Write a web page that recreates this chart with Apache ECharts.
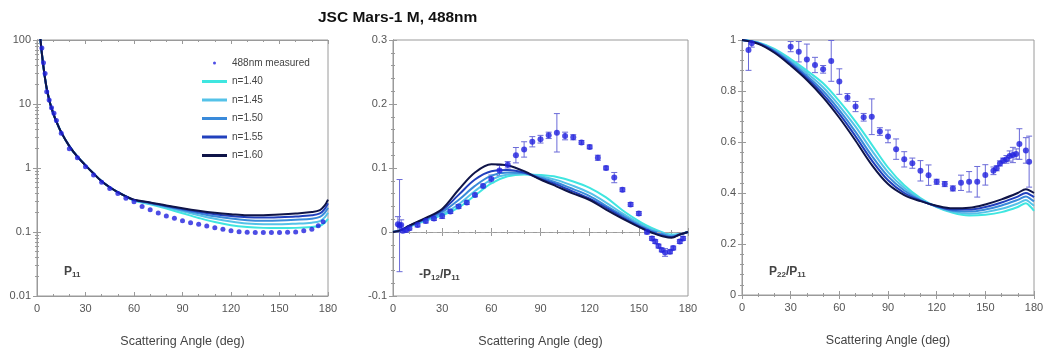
<!DOCTYPE html>
<html>
<head>
<meta charset="utf-8">
<script src="https://cdn.jsdelivr.net/npm/echarts@6/dist/echarts.min.js"></script>
<style>
html,body{margin:0;padding:0;background:#fff}
#c{width:1047px;height:355px}
</style>
</head>
<body>
<div id="c"></div>
<script>
// ---- data ----
const modelNames = ['n=1.40', 'n=1.45', 'n=1.50', 'n=1.55', 'n=1.60'];
const measName = '488nm measured';

// P11 (log scale)
const p11Angles = [1,2,3,4,5,6,8,10,12,15,20,25,30,35,40,45,50,55,60,70,80,90,100,110,120,130,140,150,160,170,175,178,180];
const p11n140 = [200,110,62,38,25,17.5,10.5,7.2,5.3,3.6,2.2,1.5,1.1,0.82,0.62,0.5,0.42,0.36,0.31,0.27,0.232,0.196,0.166,0.143,0.128,0.12,0.116,0.115,0.116,0.12,0.125,0.14,0.16];
const p11n145 = [200,110,62,38,25,17.5,10.5,7.2,5.3,3.6,2.2,1.5,1.1,0.82,0.62,0.5,0.42,0.36,0.312,0.277,0.242,0.21,0.183,0.161,0.146,0.136,0.132,0.132,0.135,0.14,0.148,0.17,0.2];
const p11n150 = [200,110,62,38,25,17.5,10.5,7.2,5.3,3.6,2.2,1.5,1.1,0.82,0.62,0.5,0.42,0.36,0.315,0.282,0.249,0.22,0.196,0.176,0.162,0.153,0.15,0.151,0.155,0.161,0.172,0.2,0.24];
const p11n155 = [200,110,62,38,25,17.5,10.5,7.2,5.3,3.6,2.2,1.5,1.1,0.82,0.62,0.5,0.42,0.36,0.318,0.286,0.255,0.228,0.207,0.19,0.178,0.17,0.168,0.17,0.174,0.182,0.195,0.23,0.28];
const p11n160 = [200,110,62,38,25,17.5,10.5,7.2,5.3,3.6,2.2,1.5,1.1,0.82,0.62,0.5,0.42,0.36,0.32,0.29,0.26,0.235,0.215,0.2,0.19,0.183,0.183,0.188,0.195,0.205,0.22,0.26,0.32];
const p11MeasAngles = [3,4,5,6,7.5,9,10.5,12,15,20,25,30,35,40,45,50,55,60,65,70,75,80,85,90,95,100,105,110,115,120,125,130,135,140,145,150,155,160,165,170,174,177];
const p11Meas = [75,44,30,15.5,11.5,8.7,7.2,5.5,3.5,2.0,1.45,1.05,0.78,0.6,0.48,0.4,0.336,0.297,0.25,0.222,0.198,0.178,0.164,0.15,0.14,0.132,0.124,0.117,0.11,0.105,0.101,0.099,0.098,0.098,0.098,0.098,0.099,0.1,0.105,0.11,0.125,0.145];

// -P12/P11
const p12Angles = [0,5,10,20,30,40,50,60,70,80,90,100,110,120,130,140,150,155,160,165,170,175,180];
const p12n140 = [0,0.003,0.008,0.018,0.026,0.038,0.057,0.076,0.087,0.09,0.089,0.086,0.079,0.069,0.054,0.034,0.017,0.01,0.004,-0.001,-0.004,-0.003,0];
const p12n145 = [0,0.003,0.009,0.019,0.028,0.043,0.064,0.082,0.09,0.091,0.087,0.081,0.072,0.061,0.046,0.029,0.014,0.007,0.002,-0.002,-0.005,-0.003,0];
const p12n150 = [0,0.003,0.009,0.02,0.031,0.05,0.072,0.088,0.093,0.092,0.085,0.077,0.067,0.056,0.041,0.026,0.011,0.005,0,-0.004,-0.007,-0.004,0];
const p12n155 = [0,0.003,0.01,0.021,0.034,0.058,0.082,0.095,0.097,0.093,0.083,0.074,0.063,0.052,0.038,0.023,0.009,0.003,-0.002,-0.006,-0.008,-0.004,0];
const p12n160 = [0,0.003,0.01,0.022,0.036,0.066,0.093,0.106,0.104,0.095,0.082,0.071,0.06,0.05,0.035,0.021,0.008,0.002,-0.003,-0.007,-0.009,-0.004,0];
const p12MeasAngles = [3,4,5,6,8,10,15,20,25,30,35,40,45,50,55,60,65,70,75,80,85,90,95,100,105,110,115,120,125,130,135,140,145,150,155,158,160,162,164,166,169,171,175,177];
const p12Meas = [0.012,0.01,0.011,0.002,0.003,0.006,0.011,0.017,0.021,0.025,0.032,0.04,0.046,0.058,0.072,0.083,0.096,0.105,0.12,0.129,0.141,0.145,0.151,0.155,0.15,0.148,0.14,0.133,0.116,0.1,0.085,0.066,0.043,0.029,0.0,-0.01,-0.015,-0.022,-0.028,-0.032,-0.031,-0.025,-0.015,-0.01];
const p12Err = [0.012,0.072,0.008,0.003,0.003,0.003,0.003,0.003,0.003,0.004,0.003,0.003,0.003,0.003,0.003,0.006,0.008,0.005,0.012,0.012,0.008,0.006,0.005,0.03,0.006,0.004,0.003,0.003,0.004,0.003,0.008,0.003,0.003,0.003,0.003,0.003,0.003,0.003,0.003,0.006,0.003,0.003,0.003,0.003];

// P22/P11
const p22Angles = [0,10,20,30,40,50,60,70,80,90,100,110,120,130,140,150,160,170,175,178,180];
const p22n140 = [1,0.99,0.965,0.925,0.88,0.83,0.76,0.68,0.59,0.5,0.43,0.38,0.345,0.322,0.312,0.315,0.325,0.345,0.36,0.345,0.33];
const p22n145 = [1,0.989,0.961,0.918,0.87,0.815,0.742,0.66,0.567,0.482,0.42,0.376,0.346,0.326,0.319,0.325,0.338,0.359,0.373,0.36,0.35];
const p22n150 = [1,0.988,0.957,0.912,0.86,0.8,0.725,0.64,0.546,0.465,0.41,0.372,0.347,0.33,0.327,0.335,0.351,0.373,0.386,0.376,0.367];
const p22n155 = [1,0.987,0.954,0.906,0.851,0.787,0.71,0.622,0.528,0.45,0.4,0.37,0.348,0.335,0.335,0.345,0.363,0.386,0.4,0.392,0.384];
const p22n160 = [1,0.985,0.95,0.9,0.843,0.775,0.695,0.605,0.51,0.435,0.392,0.368,0.35,0.34,0.342,0.355,0.375,0.4,0.415,0.407,0.4];
const p22MeasAngles = [4,6,30,35,40,45,50,55,60,65,70,75,80,85,90,95,100,105,110,115,120,125,130,135,140,145,150,155,157,159,161,163,165,167,169,171,175,177];
const p22Meas = [0.961,0.987,0.974,0.954,0.924,0.902,0.885,0.918,0.837,0.775,0.739,0.697,0.699,0.641,0.622,0.572,0.532,0.517,0.487,0.47,0.444,0.435,0.418,0.44,0.444,0.444,0.471,0.487,0.497,0.516,0.527,0.532,0.545,0.549,0.553,0.592,0.567,0.523];
const p22Err = [0.08,0.015,0.02,0.04,0.06,0.03,0.015,0.08,0.05,0.015,0.02,0.015,0.07,0.015,0.025,0.04,0.03,0.02,0.04,0.04,0.01,0.01,0.01,0.03,0.04,0.06,0.04,0.015,0.01,0.01,0.01,0.015,0.02,0.03,0.02,0.06,0.05,0.1];

// ---- styling ----
const modelColors = ['#3fe6e0', '#55c2e8', '#3a8ada', '#2140bd', '#0f1448'];
const dotColor = '#2121df';
const errColor = '#6a6ad8';
const axisGray = '#9a9a9a';
const textGray = '#555';
const FONT = 'Liberation Sans, Arial, sans-serif';

const grids = [
  { left: 37, top: 40, width: 291, height: 256 },
  { left: 393, top: 40, width: 295, height: 256 },
  { left: 742, top: 40, width: 292, height: 255 }
];

const zip = (xs, ys) => xs.map((x, i) => [x, ys[i]]);
const errRows = (xs, ys, es) => xs.map((x, i) => [x, ys[i] - es[i], ys[i] + es[i]]);

function errRender(params, api) {
  const x = api.value(0);
  const top = api.coord([x, api.value(2)]);
  const bot = api.coord([x, api.value(1)]);
  const cap = 3;
  const style = { stroke: errColor, lineWidth: 1 };
  return {
    type: 'group',
    children: [
      { type: 'line', shape: { x1: top[0], y1: top[1], x2: bot[0], y2: bot[1] }, style },
      { type: 'line', shape: { x1: top[0] - cap, y1: top[1], x2: top[0] + cap, y2: top[1] }, style },
      { type: 'line', shape: { x1: bot[0] - cap, y1: bot[1], x2: bot[0] + cap, y2: bot[1] }, style }
    ]
  };
}

function xAxes(gi) {
  const common = {
    gridIndex: gi, type: 'value', min: 0, max: 180, interval: 30,
    axisLine: { show: true, lineStyle: { color: axisGray } },
    axisTick: { show: true, inside: true, length: 4, lineStyle: { color: axisGray } },
    minorTick: { show: true, splitNumber: 3, length: 2, lineStyle: { color: axisGray } },
    splitLine: { show: false }
  };
  return [
    Object.assign({}, common, {
      position: 'bottom',
      axisLabel: { color: textGray, fontSize: 11, fontFamily: FONT, margin: 7 },
      name: 'Scattering Angle (deg)', nameLocation: 'middle', nameGap: 39,
      nameTextStyle: { color: '#444', fontSize: 12.5, fontFamily: FONT }
    }),
    Object.assign({}, common, { position: 'top', axisLabel: { show: false } })
  ];
}

function yAxes(gi, extra) {
  const common = Object.assign({
    gridIndex: gi,
    axisLine: { show: true, lineStyle: { color: axisGray } },
    axisTick: { show: true, inside: true, length: 4, lineStyle: { color: axisGray } },
    minorTick: { show: true, splitNumber: 5, length: 2, lineStyle: { color: axisGray } },
    splitLine: { show: false }
  }, extra);
  return [
    Object.assign({}, common, {
      position: 'left',
      axisLabel: { color: textGray, fontSize: 11, fontFamily: FONT, margin: 6 }
    }),
    Object.assign({}, common, { position: 'right', axisLabel: { show: false } })
  ];
}

const xAxis = [].concat(xAxes(0), xAxes(1), xAxes(2));
const yAxis = [].concat(
  yAxes(0, { type: 'log', logBase: 10, min: 0.01, max: 100, minorTick: { show: true, splitNumber: 9, length: 2, lineStyle: { color: axisGray } } }),
  yAxes(1, { type: 'value', min: -0.1, max: 0.3, interval: 0.1 }),
  yAxes(2, { type: 'value', min: 0, max: 1, interval: 0.2 })
);

const panels = [
  { models: [p11n140, p11n145, p11n150, p11n155, p11n160], angles: p11Angles, mA: p11MeasAngles, m: p11Meas, err: null },
  { models: [p12n140, p12n145, p12n150, p12n155, p12n160], angles: p12Angles, mA: p12MeasAngles, m: p12Meas, err: p12Err },
  { models: [p22n140, p22n145, p22n150, p22n155, p22n160], angles: p22Angles, mA: p22MeasAngles, m: p22Meas, err: p22Err }
];

const series = [];
panels.forEach((p, gi) => {
  const xi = gi * 2, yi = gi * 2;
  if (gi === 1) {
    // dashed zero reference
    series.push({
      type: 'line', xAxisIndex: xi, yAxisIndex: yi, data: [], silent: true,
      markLine: {
        silent: true, symbol: 'none', label: { show: false },
        lineStyle: { color: '#aaa', type: [4, 4], width: 1 },
        data: [{ yAxis: 0 }]
      }
    });
  }
  if (p.err) {
    series.push({
      type: 'custom', name: 'err' + gi, xAxisIndex: xi, yAxisIndex: yi,
      renderItem: errRender, clip: true, encode: { x: 0, y: [1, 2] },
      data: errRows(p.mA, p.m, p.err), z: 1
    });
  }
  p.models.forEach((vals, k) => {
    series.push({
      type: 'line', name: modelNames[k], xAxisIndex: xi, yAxisIndex: yi,
      data: zip(p.angles, vals), smooth: 0.35, symbol: 'none', clip: true,
      lineStyle: { width: 2, color: modelColors[k] }, itemStyle: { color: modelColors[k] },
      z: 2 + k
    });
  });
  series.push({
    type: 'scatter', name: measName, xAxisIndex: xi, yAxisIndex: yi,
    data: zip(p.mA, p.m), symbol: 'circle', symbolSize: gi === 0 ? 5 : 6,
    itemStyle: { color: dotColor }, clip: true, z: 10
  });
});

const rich = {
  m: { fontSize: 12, color: '#444', fontFamily: FONT },
  s: { fontSize: 8, color: '#444', fontFamily: FONT, padding: [6, 0, 0, 0] }
};

const option = {
  animation: false,
  backgroundColor: '#fff',
  title: [
    { text: 'JSC Mars-1 M, 488nm', left: 313, top: 5,
      textStyle: { fontSize: 15.5, fontWeight: 'bold', color: '#111', fontFamily: FONT } },
    { text: '{m|P}{s|11}', left: 59, top: 260, textStyle: { rich } },
    { text: '{m|-P}{s|12}{m|/P}{s|11}', left: 414, top: 263, textStyle: { rich } },
    { text: '{m|P}{s|22}{m|/P}{s|11}', left: 764, top: 260, textStyle: { rich } }
  ],
  legend: {
    orient: 'vertical', left: 197, top: 52,
    itemWidth: 25, itemHeight: 3, itemGap: 6.5,
    textStyle: { fontSize: 10, color: '#444', fontFamily: FONT, lineHeight: 12 },
    data: [{ name: measName, icon: 'circle' }].concat(modelNames.map(n => ({ name: n, icon: 'rect' }))),
    selectedMode: false
  },
  grid: grids.map(g => Object.assign({ show: true, borderColor: axisGray, borderWidth: 1 }, g)),
  xAxis, yAxis, series
};

echarts.init(document.getElementById('c'), null, { renderer: 'canvas' }).setOption(option);
</script>
</body>
</html>
